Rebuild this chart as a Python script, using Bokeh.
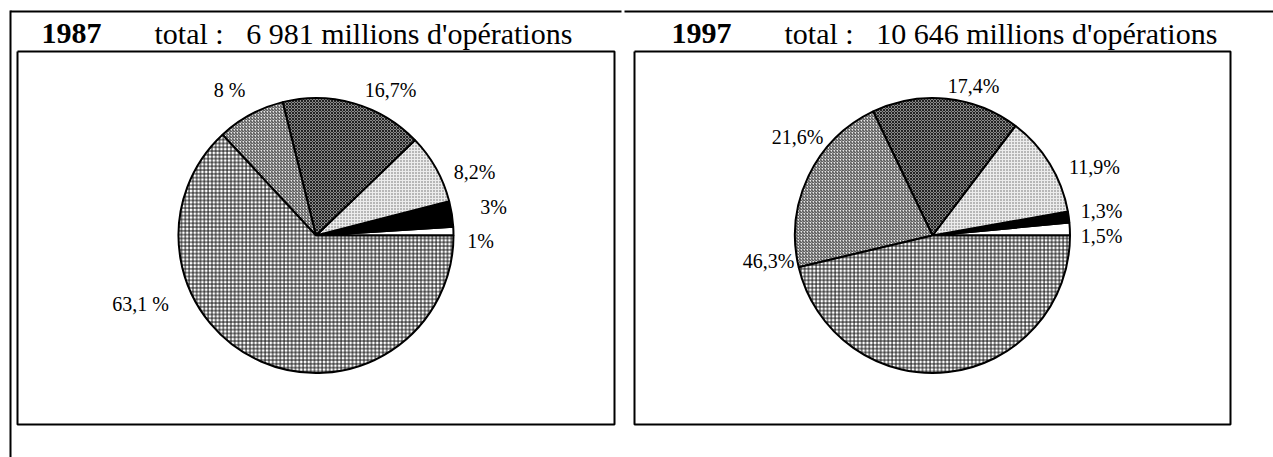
import math
from bokeh.plotting import figure
from bokeh.models import ColumnDataSource, Range1d
from bokeh.embed import file_html
from bokeh.resources import INLINE
from bokeh.core.properties import value

# ---------------- data ----------------
categories = ["a", "b", "c", "d", "e", "f"]  # slice order, anticlockwise from east
shares_1987 = [1.0, 3.0, 8.2, 16.7, 8.0, 63.1]
shares_1997 = [1.5, 1.3, 11.9, 17.4, 21.6, 46.3]
labels_1987 = ["1%", "3%", "8,2%", "16,7%", "8 %", "63,1 %"]
labels_1997 = ["1,5%", "1,3%", "11,9%", "17,4%", "21,6%", "46,3%"]
years = ["1987", "1997"]
totals = ["6 981", "10 646"]

# ---------------- styles (per slice) ----------------
fills = ["white", "black", "#ececec", "#8a8a8a", "#e8e8e8", "white"]
hatches = [" ", " ", "dot", "diagonal_cross", "right_diagonal_line", "cross"]
hatch_colors = ["black", "black", "#666666", "#222222", "#3a3a3a", "#111111"]
hatch_scales = [4, 4, 3, 3, 3, 3.8]

W, H = 1273, 457
p = figure(width=W, height=H, output_backend="svg", toolbar_location=None,
           x_axis_type=None, y_axis_type=None, min_border=0,
           x_range=Range1d(0, W), y_range=Range1d(0, H))
p.outline_line_color = None
p.xgrid.visible = False
p.ygrid.visible = False


def sy(y):  # screen y -> data y
    return H - y


# outer table lines
p.line([10, 621], [sy(11), sy(11)], line_color="black", line_width=2)
p.line([624, 1273], [sy(11), sy(11)], line_color="black", line_width=2)
p.line([10, 10], [sy(10), sy(457)], line_color="black", line_width=2)

FONT = value("Liberation Serif")
NB = "\u00a0"

panels = [
    dict(shares=shares_1987, labels=labels_1987, year=years[0], total=totals[0],
         box=(17, 614), cx=315.5, title_x=41,
         lab_xy=[(480, 240), (493, 206), (474, 171), (390, 89), (229, 89), (140, 303)]),
    dict(shares=shares_1997, labels=labels_1997, year=years[1], total=totals[1],
         box=(634, 1230), cx=932, title_x=671,
         lab_xy=[(1101, 235), (1101, 210), (1094, 166), (973, 85), (797, 136), (768, 260)]),
]

for pan in panels:
    x0, x1 = pan["box"]
    # box
    p.line([x0, x1, x1, x0, x0], [sy(51), sy(51), sy(424), sy(424), sy(51)],
           line_color="black", line_width=2)
    # wedges
    tot = sum(pan["shares"])
    starts, ends = [], []
    acc = 0.0
    for s in pan["shares"]:
        starts.append(2 * math.pi * acc / tot)
        acc += s
        ends.append(2 * math.pi * acc / tot)
    src = ColumnDataSource(dict(
        x=[pan["cx"]] * len(starts), y=[sy(235)] * len(starts),
        start=starts, end=ends, fill=fills, hatch=hatches,
        hcol=hatch_colors, hscale=hatch_scales, cat=categories,
    ))
    p.wedge(x="x", y="y", radius=137.5, radius_units="screen",
            start_angle="start", end_angle="end", source=src,
            fill_color="fill", hatch_pattern="hatch", hatch_color="hcol",
            hatch_scale="hscale", hatch_weight=1,
            line_color="black", line_width=2)
    # labels
    lsrc = ColumnDataSource(dict(
        x=[xy[0] for xy in pan["lab_xy"]], y=[sy(xy[1]) for xy in pan["lab_xy"]],
        t=[t.replace(" ", NB) for t in pan["labels"]]))
    p.text(x="x", y="y", text="t", source=lsrc, text_font=FONT,
           text_font_size="20px", text_align="center", text_baseline="middle",
           text_color="black")
    # title
    p.text(x=[pan["title_x"]], y=[sy(33)], text=[pan["year"]], text_font=FONT,
           text_font_size="30px", text_font_style="bold", text_align="left",
           text_baseline="middle", text_color="black")
    p.text(x=[pan["title_x"] + 113], y=[sy(33)],
           text=["total :" + NB * 3 + pan["total"].replace(" ", NB) + " millions d'opérations"],
           text_font=FONT, text_font_size="30px", text_align="left",
           text_baseline="middle", text_color="black")

open("out.html", "w").write(file_html(p, INLINE))
